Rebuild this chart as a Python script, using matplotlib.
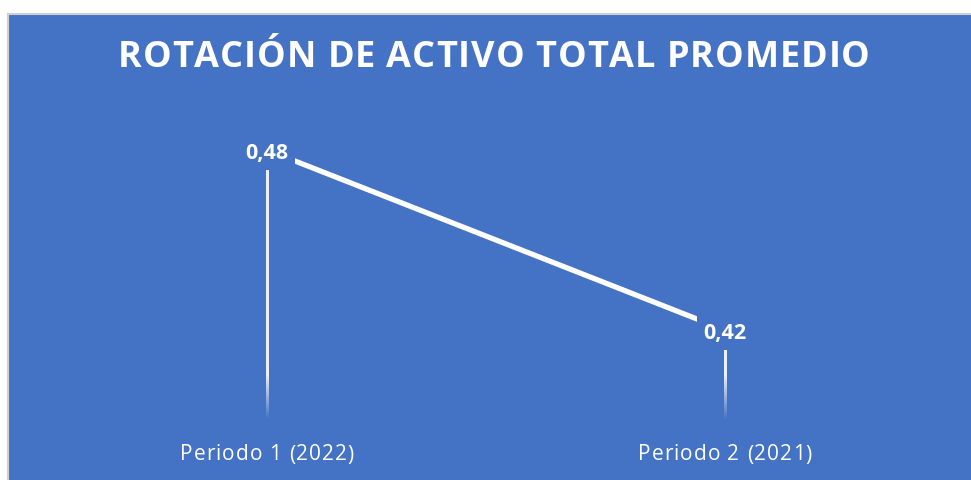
import numpy as np
import matplotlib.pyplot as plt

periodos = ["Periodo 1 (2022)", "Periodo 2 (2021)"]
rotacion = [0.48, 0.42]
etiquetas = ["0,48", "0,42"]
titulo = "ROTACIÓN DE ACTIVO TOTAL PROMEDIO"

azul = "#4472C4"
y_min, y_max = 0.39, 0.49

fig = plt.figure(figsize=(9.71, 4.8), dpi=100)
fig.patch.set_facecolor("white")

# fondo azul del grafico
fondo = fig.add_axes([8 / 971, 0, 963 / 971, 466 / 480])
fondo.set_facecolor(azul)
fondo.set_xticks([])
fondo.set_yticks([])
for s in ["top", "left"]:
    fondo.spines[s].set_color("#d0d0d0")
    fondo.spines[s].set_linewidth(1.5)
for s in ["right", "bottom"]:
    fondo.spines[s].set_visible(False)

renderer = fig.canvas.get_renderer()


def medir(s, **kw):
    t = fig.text(0, 0, s, **kw)
    w = t.get_window_extent(renderer).width
    t.remove()
    return w


def texto_espaciado(txt, xc, y, ancho, **kw):
    # escribe letra por letra para imitar el espaciado de Excel
    esp = medir("n n", **kw) - medir("nn", **kw)
    anchos = [esp if c == " " else medir(c, **kw) for c in txt]
    extra = (ancho - sum(anchos)) / (len(txt) - 1)
    xpos = xc - ancho / 2
    for c, w in zip(txt, anchos):
        if c != " ":
            fig.text(xpos / 971, y, c, ha="left", va="center", **kw)
        xpos += w + extra


texto_espaciado(titulo, 494, 1 - 58 / 480, 752, color="white", fontsize=26,
                fontweight="bold", family="Open Sans")

ax = fig.add_axes([38 / 971, 60 / 480, 916 / 971, 300 / 480])
ax.set_facecolor("none")
x = np.arange(len(periodos))
ax.set_xlim(-0.5, len(periodos) - 0.5)
ax.set_ylim(y_min, y_max)

ax.plot(x, rotacion, color="white", lw=3.8, solid_capstyle="butt", zorder=3)

# lineas de proyeccion con degradado hacia abajo
medio_ancho = 1.1 * 2 / 916
for xi, yi in zip(x, rotacion):
    ys = np.linspace(yi, y_min, 300)
    alfa = np.clip((ys - y_min) / 0.015, 0, 1) * 0.9
    img = np.ones((len(ys), 1, 4))
    img[:, 0, 3] = alfa
    ax.imshow(img, extent=[xi - medio_ancho, xi + medio_ancho, y_min, yi],
              aspect="auto", interpolation="bilinear", zorder=2)

ax.set_xlim(-0.5, len(periodos) - 0.5)
ax.set_ylim(y_min, y_max)

for xi, yi, lab in zip(x, rotacion, etiquetas):
    ax.text(xi, yi - 0.001, lab, color="white", fontsize=15.5, fontweight="bold",
            ha="center", va="center", family="Open Sans", zorder=4,
            bbox=dict(boxstyle="square,pad=0.3", fc=azul, ec="none"))

# etiquetas de categoria con espaciado
for xi, lab in zip(x, periodos):
    xc = ax.transData.transform((xi, y_min))[0]
    texto_espaciado(lab, xc, 1 - 455 / 480, 174, color="white", fontsize=15,
                    family="Open Sans")

ax.set_xticks([])
ax.set_yticks([])
for s in ax.spines.values():
    s.set_visible(False)

fig.savefig("out.png", dpi=100)
